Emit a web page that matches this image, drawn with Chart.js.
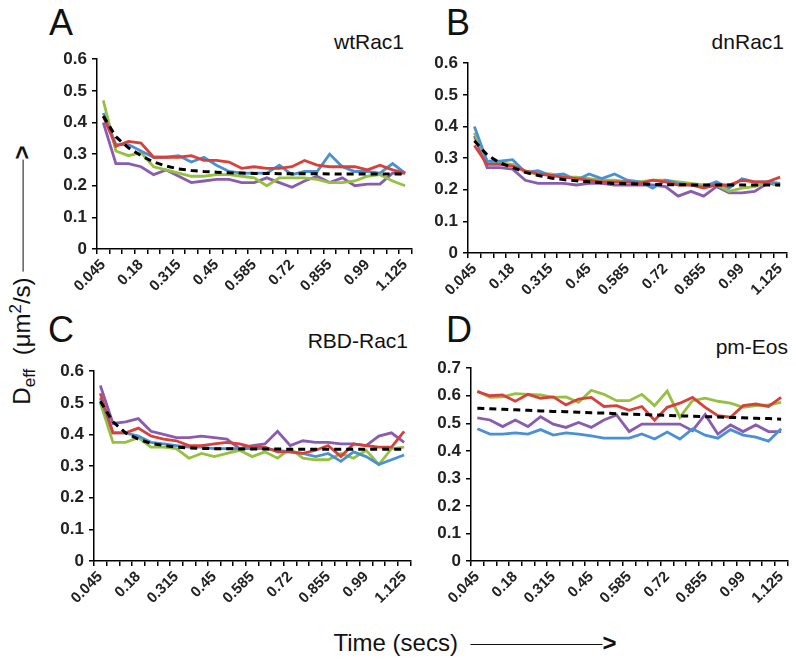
<!DOCTYPE html>
<html>
<head>
<meta charset="utf-8">
<script src="https://cdn.jsdelivr.net/npm/chart.js@4.4.0/dist/chart.umd.min.js"></script>
<style>
    body { margin: 0; background: #fff; }
    #page { position: relative; width: 796px; height: 663px; overflow: hidden; font-family: "Liberation Sans", Arial, sans-serif; color: #111; }
    .panel-canvas { position: absolute; }
    .letter { position: absolute; font-size: 36px; line-height: 36px; }
    .name { position: absolute; font-size: 21px; line-height: 21px; text-align: right; }
    .ytitle { position: absolute; left: 23px; top: 275px; transform: translate(-50%, -50%) rotate(-90deg); white-space: nowrap; font-size: 24px; }
    .xtitle { position: absolute; left: 475px; top: 643px; transform: translate(-50%, -50%); white-space: nowrap; font-size: 24px; }
    .arrow-line { display: inline-block; height: 0; border-top: 1.5px solid #111; vertical-align: middle; margin-left: 6px; }
    .arrow-head { font-weight: bold; margin-left: 0; }
</style>
</head>
<body>
<div id="page">
    <div class="letter" style="left:49px; top:5px;">A</div>
    <div class="letter" style="left:446px; top:5px;">B</div>
    <div class="letter" style="left:48px; top:312px;">C</div>
    <div class="letter" style="left:446px; top:312px;">D</div>

    <div class="name" style="right:392px; top:31px;">wtRac1</div>
    <div class="name" style="right:12px; top:31px;">dnRac1</div>
    <div class="name" style="right:388px; top:330px;">RBD-Rac1</div>
    <div class="name" style="right:8px; top:336px;">pm-Eos</div>

    <div class="ytitle">D<sub style="font-size:17px">eff</sub>&nbsp; (&mu;m<sup style="font-size:17px">2</sup>/s)<span class="arrow-line" style="width:112px"></span><span class="arrow-head">&gt;</span></div>
    <div class="xtitle">Time (secs) <span class="arrow-line" style="width:132px"></span><span class="arrow-head">&gt;</span></div>

    <canvas id="chartA" class="panel-canvas"></canvas>
    <canvas id="chartB" class="panel-canvas"></canvas>
    <canvas id="chartC" class="panel-canvas"></canvas>
    <canvas id="chartD" class="panel-canvas"></canvas>
</div>

<script>
// time points (secs), label shown every 3rd point
const times = ["0.045", "0.09", "0.135", "0.18", "0.225", "0.27", "0.315", "0.36", "0.405", "0.45",
    "0.495", "0.54", "0.585", "0.63", "0.675", "0.72", "0.765", "0.81", "0.855", "0.9",
    "0.945", "0.99", "1.035", "1.08", "1.125"];

// A - wtRac1
const wtBlue   = [0.43, 0.33, 0.33, 0.31, 0.29, 0.29, 0.295, 0.275, 0.29, 0.265, 0.245, 0.24, 0.24, 0.24, 0.265, 0.235, 0.245, 0.245, 0.30, 0.26, 0.245, 0.245, 0.24, 0.27, 0.24];
const wtRed    = [0.42, 0.325, 0.34, 0.335, 0.29, 0.29, 0.29, 0.295, 0.28, 0.28, 0.275, 0.255, 0.26, 0.255, 0.255, 0.26, 0.28, 0.265, 0.26, 0.26, 0.26, 0.25, 0.265, 0.25, 0.24];
const wtGreen  = [0.47, 0.31, 0.295, 0.305, 0.26, 0.25, 0.24, 0.23, 0.23, 0.235, 0.235, 0.23, 0.225, 0.20, 0.225, 0.225, 0.225, 0.22, 0.21, 0.21, 0.215, 0.23, 0.235, 0.215, 0.20];
const wtPurple = [0.40, 0.27, 0.27, 0.26, 0.235, 0.25, 0.23, 0.21, 0.215, 0.22, 0.22, 0.21, 0.21, 0.225, 0.21, 0.195, 0.215, 0.23, 0.21, 0.225, 0.20, 0.205, 0.205, 0.24, 0.24];
const wtFit    = [0.42, 0.355, 0.32, 0.295, 0.275, 0.262, 0.253, 0.248, 0.245, 0.243, 0.241, 0.240, 0.239, 0.239, 0.238, 0.238, 0.238, 0.238, 0.237, 0.237, 0.237, 0.237, 0.237, 0.237, 0.237];

// B - dnRac1
const dnBlue   = [0.40, 0.29, 0.29, 0.295, 0.255, 0.26, 0.245, 0.25, 0.23, 0.25, 0.235, 0.25, 0.23, 0.225, 0.205, 0.23, 0.22, 0.215, 0.21, 0.225, 0.205, 0.235, 0.225, 0.225, 0.22];
const dnRed    = [0.34, 0.28, 0.28, 0.275, 0.26, 0.25, 0.245, 0.24, 0.235, 0.23, 0.225, 0.225, 0.225, 0.22, 0.23, 0.225, 0.215, 0.215, 0.205, 0.215, 0.215, 0.23, 0.225, 0.225, 0.24];
const dnGreen  = [0.38, 0.29, 0.285, 0.28, 0.255, 0.25, 0.25, 0.24, 0.24, 0.235, 0.23, 0.23, 0.225, 0.225, 0.23, 0.23, 0.225, 0.22, 0.215, 0.215, 0.195, 0.205, 0.21, 0.225, 0.215];
const dnPurple = [0.37, 0.27, 0.27, 0.265, 0.23, 0.22, 0.22, 0.22, 0.215, 0.22, 0.22, 0.215, 0.215, 0.215, 0.215, 0.21, 0.18, 0.195, 0.18, 0.21, 0.19, 0.19, 0.195, 0.22, 0.215];
const dnFit    = [0.355, 0.31, 0.285, 0.27, 0.255, 0.245, 0.237, 0.232, 0.228, 0.225, 0.222, 0.220, 0.219, 0.218, 0.217, 0.216, 0.216, 0.215, 0.215, 0.215, 0.215, 0.215, 0.215, 0.215, 0.215];

// C - RBD-Rac1
const rbdBlue   = [0.515, 0.405, 0.405, 0.395, 0.375, 0.37, 0.365, 0.36, 0.36, 0.355, 0.355, 0.355, 0.355, 0.355, 0.35, 0.345, 0.34, 0.33, 0.34, 0.315, 0.345, 0.33, 0.305, 0.32, 0.335];
const rbdRed    = [0.53, 0.405, 0.405, 0.42, 0.395, 0.385, 0.38, 0.365, 0.365, 0.37, 0.375, 0.37, 0.36, 0.36, 0.345, 0.345, 0.34, 0.35, 0.365, 0.33, 0.37, 0.365, 0.36, 0.36, 0.41];
const rbdGreen  = [0.50, 0.375, 0.375, 0.39, 0.36, 0.36, 0.355, 0.325, 0.34, 0.33, 0.34, 0.35, 0.33, 0.345, 0.325, 0.355, 0.325, 0.32, 0.32, 0.34, 0.325, 0.35, 0.305, 0.355, 0.36];
const rbdPurple = [0.555, 0.435, 0.44, 0.45, 0.41, 0.40, 0.39, 0.39, 0.395, 0.39, 0.385, 0.355, 0.365, 0.37, 0.41, 0.365, 0.38, 0.375, 0.375, 0.37, 0.37, 0.365, 0.395, 0.405, 0.375];
const rbdFit    = [0.505, 0.44, 0.405, 0.385, 0.372, 0.365, 0.36, 0.357, 0.356, 0.355, 0.355, 0.354, 0.354, 0.354, 0.354, 0.353, 0.353, 0.353, 0.353, 0.353, 0.353, 0.353, 0.353, 0.353, 0.353];

// D - pm-Eos
const eosBlue   = [0.48, 0.461, 0.461, 0.465, 0.461, 0.477, 0.457, 0.465, 0.461, 0.454, 0.446, 0.446, 0.446, 0.461, 0.443, 0.468, 0.443, 0.48, 0.457, 0.446, 0.477, 0.457, 0.45, 0.435, 0.48];
const eosRed    = [0.615, 0.60, 0.603, 0.58, 0.605, 0.591, 0.596, 0.567, 0.588, 0.594, 0.561, 0.564, 0.547, 0.561, 0.511, 0.558, 0.573, 0.594, 0.558, 0.528, 0.522, 0.564, 0.57, 0.561, 0.594];
const eosGreen  = [0.617, 0.594, 0.596, 0.608, 0.605, 0.603, 0.594, 0.596, 0.576, 0.62, 0.605, 0.582, 0.582, 0.605, 0.564, 0.617, 0.522, 0.582, 0.591, 0.58, 0.573, 0.558, 0.564, 0.567, 0.576];
const eosPurple = [0.52, 0.512, 0.488, 0.512, 0.488, 0.524, 0.497, 0.485, 0.503, 0.485, 0.512, 0.53, 0.47, 0.497, 0.497, 0.497, 0.497, 0.473, 0.532, 0.461, 0.494, 0.47, 0.494, 0.47, 0.47];
const eosFit    = [0.555, 0.553, 0.551, 0.549, 0.547, 0.545, 0.543, 0.542, 0.540, 0.538, 0.537, 0.535, 0.533, 0.532, 0.530, 0.529, 0.527, 0.526, 0.524, 0.523, 0.521, 0.520, 0.518, 0.517, 0.515];

const COLORS = { blue: "#4a90d4", red: "#d6423b", green: "#96c13f", purple: "#8a5cb0" };

// y-axis width and extra canvas margins around the plot box
const Y_AXIS_W = 60;
const PAD_TOP = 10;
const PAD_RIGHT = 7;
const X_AXIS_H = 58;

function lineSet(data, color, order) {
    return {
        data: data,
        borderColor: color,
        borderWidth: 2.8,
        pointRadius: 0,
        tension: 0,
        fill: false,
        order: order
    };
}

function makePanel(id, box, series, yMax) {
    const canvas = document.getElementById(id);
    const w = box.right - box.left + Y_AXIS_W + PAD_RIGHT;
    const h = box.bottom - box.top + PAD_TOP + X_AXIS_H;
    canvas.style.left = (box.left - Y_AXIS_W) + "px";
    canvas.style.top = (box.top - PAD_TOP) + "px";
    canvas.width = w;
    canvas.height = h;
    canvas.style.width = w + "px";
    canvas.style.height = h + "px";

    new Chart(canvas, {
        type: "line",
        data: {
            labels: times,
            datasets: [
                Object.assign(lineSet(series.fit, "#000", 0), { borderDash: [7, 5], borderWidth: 3 }),
                lineSet(series.blue, COLORS.blue, 2),
                lineSet(series.red, COLORS.red, 1),
                lineSet(series.green, COLORS.green, 3),
                lineSet(series.purple, COLORS.purple, 4)
            ]
        },
        options: {
            responsive: false,
            animation: false,
            devicePixelRatio: 1,
            layout: { autoPadding: false, padding: { top: PAD_TOP, right: PAD_RIGHT, left: 0, bottom: 0 } },
            plugins: { legend: { display: false }, tooltip: { enabled: false } },
            scales: {
                x: {
                    offset: true,
                    afterFit: s => { s.height = X_AXIS_H; },
                    border: { display: true, color: "#000", width: 1.5 },
                    grid: { offset: true, drawOnChartArea: false, drawTicks: true, tickLength: 5, color: "#000", lineWidth: 1.5 },
                    ticks: {
                        autoSkip: false,
                        maxRotation: 45,
                        minRotation: 45,
                        padding: 2,
                        color: "#222",
                        font: { family: "Liberation Sans", size: 15, weight: "bold" },
                        callback: (v, i) => (i % 3 === 0 ? times[i] : "")
                    }
                },
                y: {
                    min: 0,
                    max: yMax,
                    afterFit: s => { s.width = Y_AXIS_W; },
                    border: { display: true, color: "#000", width: 1.5 },
                    grid: { drawOnChartArea: false, drawTicks: true, tickLength: 5, color: "#000", lineWidth: 1.5 },
                    ticks: {
                        stepSize: 0.1,
                        padding: 5,
                        color: "#222",
                        font: { family: "Liberation Sans", size: 17, weight: "bold" },
                        callback: v => String(Math.round(v * 10) / 10)
                    }
                }
            }
        }
    });
}

makePanel("chartA", { left: 97, top: 54, right: 413, bottom: 249 },
    { blue: wtBlue, red: wtRed, green: wtGreen, purple: wtPurple, fit: wtFit }, 0.6);
makePanel("chartB", { left: 468, top: 58, right: 788, bottom: 253 },
    { blue: dnBlue, red: dnRed, green: dnGreen, purple: dnPurple, fit: dnFit }, 0.6);
makePanel("chartC", { left: 94, top: 366, right: 412, bottom: 561 },
    { blue: rbdBlue, red: rbdRed, green: rbdGreen, purple: rbdPurple, fit: rbdFit }, 0.6);
makePanel("chartD", { left: 471, top: 363, right: 789, bottom: 561 },
    { blue: eosBlue, red: eosRed, green: eosGreen, purple: eosPurple, fit: eosFit }, 0.7);
</script>
</body>
</html>
